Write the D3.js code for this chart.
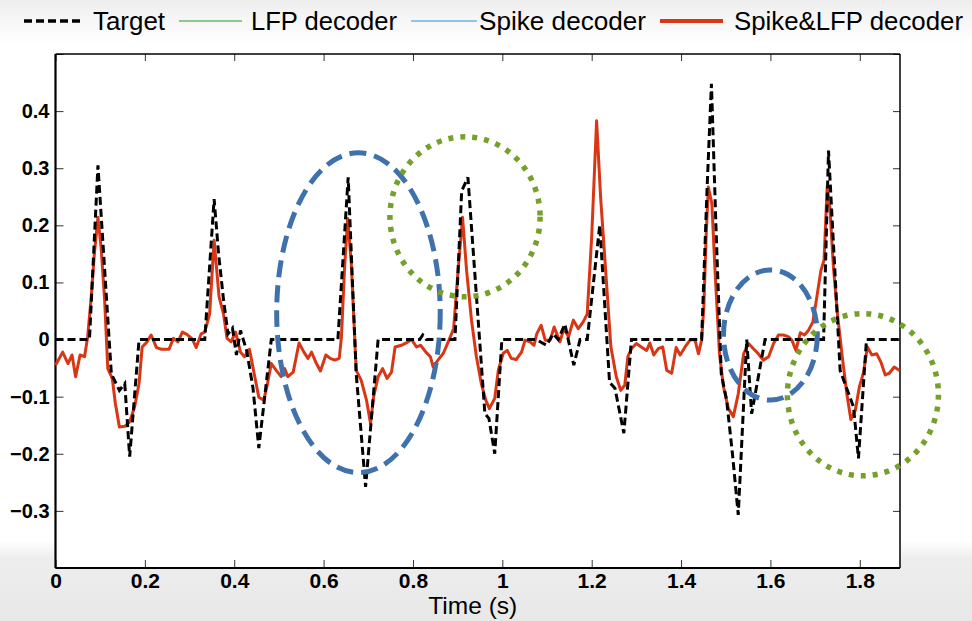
<!DOCTYPE html>
<html>
<head>
<meta charset="utf-8">
<script src="https://cdn.jsdelivr.net/npm/d3@7"></script>
<style>
  body { margin: 0; background: #fff; }
  svg { display: block; font-family: "Liberation Sans", Arial, Helvetica, sans-serif; }
</style>
</head>
<body>
<div id="chart"></div>
<script>
// target trajectory (black dashed)
const targetTime = [0, 0.076, 0.095, 0.125, 0.143, 0.155, 0.166, 0.187, 0.334, 0.355, 0.365, 0.376, 0.386, 0.396,
  0.405, 0.414, 0.428, 0.442, 0.455, 0.483, 0.632, 0.655, 0.673, 0.694, 0.722, 0.815, 0.822, 0.83, 0.894, 0.909,
  0.923, 0.961, 0.970, 0.983, 0.999, 1.076, 1.099, 1.114, 1.125, 1.14, 1.16, 1.174, 1.19, 1.218, 1.24, 1.252,
  1.272, 1.289, 1.446, 1.458, 1.468, 1.478, 1.49, 1.502, 1.515, 1.528, 1.547, 1.558, 1.588, 1.719, 1.73, 1.756,
  1.786, 1.797, 1.815, 1.89];
const targetValue = [0, 0, 0.305, -0.06, -0.089, -0.077, -0.205, 0, 0, 0.246, 0.15, 0.07, 0.01, 0.02,
  -0.027, 0.016, -0.02, -0.085, -0.19, 0, 0, 0.284, -0.06, -0.258, 0, 0, 0.008, 0, 0, 0.26,
  0.284, -0.13, -0.138, -0.2, 0, 0, -0.01, 0.01, 0, 0.027, -0.045, 0, 0, 0.2, -0.075, -0.085,
  -0.164, 0, 0, 0.26, 0.448, 0.2, -0.06, -0.106, -0.2, -0.307, 0, -0.13, 0, 0, 0.331, -0.054,
  -0.118, -0.208, 0, 0];

// combined decoder output (red)
const comboTime = [0, 0.016, 0.028, 0.037, 0.045, 0.055, 0.065, 0.072, 0.080, 0.087, 0.095, 0.102, 0.110, 0.117,
  0.127, 0.134, 0.143, 0.155, 0.166, 0.177, 0.187, 0.194, 0.205, 0.214, 0.226, 0.237, 0.254, 0.264, 0.274, 0.284,
  0.294, 0.306, 0.315, 0.326, 0.334, 0.345, 0.355, 0.366, 0.376, 0.384, 0.393, 0.403, 0.414, 0.423, 0.434, 0.446,
  0.455, 0.466, 0.473, 0.483, 0.494, 0.505, 0.513, 0.520, 0.532, 0.545, 0.556, 0.565, 0.573, 0.584, 0.593, 0.605,
  0.615, 0.625, 0.635, 0.640, 0.647, 0.654, 0.662, 0.673, 0.684, 0.696, 0.705, 0.712, 0.722, 0.732, 0.742, 0.752,
  0.760, 0.774, 0.785, 0.797, 0.808, 0.817, 0.829, 0.839, 0.845, 0.856, 0.868, 0.879, 0.891, 0.901, 0.911, 0.920,
  0.931, 0.942, 0.953, 0.963, 0.971, 0.983, 0.991, 1.002, 1.011, 1.020, 1.031, 1.043, 1.051, 1.062, 1.071, 1.077,
  1.087, 1.096, 1.107, 1.116, 1.129, 1.138, 1.148, 1.159, 1.170, 1.181, 1.190, 1.200, 1.211, 1.220, 1.243, 1.255,
  1.265, 1.274, 1.281, 1.289, 1.300, 1.311, 1.323, 1.330, 1.339, 1.349, 1.359, 1.368, 1.379, 1.389, 1.398, 1.409,
  1.420, 1.431, 1.439, 1.446, 1.451, 1.456, 1.461, 1.469, 1.476, 1.486, 1.495, 1.506, 1.517, 1.528, 1.540, 1.551,
  1.562, 1.573, 1.584, 1.596, 1.607, 1.618, 1.629, 1.640, 1.648, 1.657, 1.667, 1.676, 1.685, 1.695, 1.704, 1.713,
  1.720, 1.727, 1.733, 1.741, 1.750, 1.760, 1.771, 1.780, 1.790, 1.799, 1.808, 1.817, 1.827, 1.838, 1.847, 1.857,
  1.866, 1.877, 1.889];
const comboValue = [-0.045, -0.022, -0.042, -0.027, -0.065, -0.027, -0.030, 0.005, 0.075, 0.150, 0.214, 0.162, 0.069, -0.051,
  -0.068, -0.112, -0.153, -0.152, -0.144, -0.118, -0.077, -0.013, -0.004, 0.008, -0.014, -0.017, -0.017, 0.002, -0.004, 0.013,
  0.009, 0.001, -0.014, 0.010, 0.013, 0.045, 0.174, 0.075, 0.045, 0.002, -0.004, 0.013, -0.022, -0.030, -0.017, -0.065,
  -0.101, -0.106, -0.083, -0.042, -0.054, -0.065, -0.051, -0.065, -0.057, -0.006, -0.022, -0.033, -0.022, -0.042, -0.055, -0.027,
  -0.033, -0.036, -0.033, 0.005, 0.127, 0.212, 0.133, -0.054, -0.071, -0.106, -0.147, -0.100, -0.065, -0.051, -0.068, -0.057,
  -0.013, -0.010, -0.006, 0.000, -0.013, -0.010, -0.022, -0.030, -0.048, -0.036, -0.024, -0.004, 0.019, 0.121, 0.214, 0.121,
  0.034, -0.030, -0.077, -0.106, -0.121, -0.103, -0.054, -0.024, -0.019, -0.033, -0.035, -0.022, -0.001, -0.004, -0.010, 0.010,
  0.025, -0.001, -0.001, 0.022, -0.004, 0.020, 0.005, 0.034, 0.019, 0.031, 0.045, 0.180, 0.383, 0.249, -0.013, -0.065,
  -0.089, -0.080, -0.030, -0.016, -0.007, -0.013, -0.019, -0.006, -0.027, -0.016, -0.013, -0.054, -0.059, -0.014, -0.027, -0.013,
  -0.001, 0.000, -0.025, -0.001, 0.057, 0.179, 0.267, 0.238, 0.121, -0.025, -0.083, -0.121, -0.135, -0.095, -0.025, -0.007,
  -0.016, -0.025, -0.036, -0.030, -0.007, 0.008, 0.008, 0.005, -0.001, -0.019, 0.012, 0.008, 0.016, 0.031, 0.075, 0.121,
  0.139, 0.267, 0.232, 0.127, 0.045, -0.025, -0.095, -0.140, -0.124, -0.083, -0.059, -0.013, -0.027, -0.025, -0.039, -0.062,
  -0.059, -0.048, -0.054];

const legendLabels = ['Target', 'LFP decoder', 'Spike decoder', 'Spike&LFP decoder'];
const xTicks = [0, 0.2, 0.4, 0.6, 0.8, 1, 1.2, 1.4, 1.6, 1.8];
const yTicks = [-0.4, -0.3, -0.2, -0.1, 0, 0.1, 0.2, 0.3, 0.4, 0.5];
const yLabelled = [-0.3, -0.2, -0.1, 0, 0.1, 0.2, 0.3, 0.4];

// highlighted regions: centre (s, value) and radii in data units
const ringCentreT = [0.678, 0.9165, 1.600, 1.807];
const ringCentreV = [0.047, 0.215, 0.008, -0.0965];
const ringRadiusT = [0.183, 0.168, 0.105, 0.169];
const ringRadiusV = [0.280, 0.140, 0.114, 0.142];
const ringKind = ['blue', 'green', 'blue', 'green'];

const W = 972;
const H = 621;
const MARGIN = { top: 54, right: 72, bottom: 53, left: 55.5 };
const innerW = W - MARGIN.left - MARGIN.right;
const innerH = H - MARGIN.top - MARGIN.bottom;

const COLORS = {
  target: '#000000',
  lfp: '#1f9a2a',
  spike: '#2a8fd6',
  combo: '#d93616',
  blue: '#3f71ad',
  green: '#76a02c',
};

const svg = d3.select('#chart')
  .append('svg')
  .attr('width', W)
  .attr('height', H);

const grad = svg.append('defs')
  .append('linearGradient')
  .attr('id', 'bg')
  .attr('x1', 0).attr('y1', 0)
  .attr('x2', 0).attr('y2', 1);
[[0, '#eeeeee'], [0.07, '#ffffff'], [0.87, '#ffffff'], [0.9, '#ededed'], [1, '#e8e8e8']].forEach(([o, c]) => {
  grad.append('stop').attr('offset', o).attr('stop-color', c);
});
svg.append('rect').attr('width', W).attr('height', H).attr('fill', 'url(#bg)');

const g = svg.append('g')
  .attr('transform', `translate(${MARGIN.left},${MARGIN.top})`);

g.append('rect')
  .attr('width', innerW)
  .attr('height', innerH)
  .attr('fill', '#fff');

const x = d3.scaleLinear().domain([0, 1.89]).range([0, innerW]);
const y = d3.scaleLinear().domain([-0.4, 0.5]).range([innerH, 0]);

const fmt = d => (d === 0 || d === 1) ? String(d) : d3.format('.1f')(d);

// axes, ticks pointing inward like MATLAB
const xAxis = g.append('g')
  .attr('transform', `translate(0,${innerH})`)
  .call(d3.axisBottom(x).tickValues(xTicks).tickSizeInner(-8).tickSizeOuter(0).tickPadding(6).tickFormat(fmt));
xAxis.selectAll('text')
  .attr('y', 5)
  .attr('fill', '#000')
  .attr('font-size', '21px')
  .attr('font-weight', 'bold');

const yAxis = g.append('g')
  .call(d3.axisLeft(y).tickValues(yTicks).tickSizeInner(-8).tickSizeOuter(0).tickPadding(6)
    .tickFormat(d => yLabelled.some(v => Math.abs(v - d) < 1e-9) ? fmt(d) : ''));
yAxis.selectAll('text')
  .attr('x', -6)
  .attr('fill', '#000')
  .attr('font-size', '20px')
  .attr('font-weight', 'bold');

g.append('g')
  .call(d3.axisTop(x).tickValues(xTicks).tickSizeInner(-7).tickSizeOuter(0).tickFormat(''));
g.append('g')
  .attr('transform', `translate(${innerW},0)`)
  .call(d3.axisRight(y).tickValues(yTicks).tickSizeInner(-7).tickSizeOuter(0).tickFormat(''));

g.selectAll('.domain').remove();
g.selectAll('.tick line').attr('stroke', '#333').attr('stroke-width', 1);

// box
g.append('line').attr('x1', 0).attr('x2', innerW).attr('y1', 0).attr('y2', 0)
  .attr('stroke', '#000').attr('stroke-width', 1.5);
g.append('line').attr('x1', innerW).attr('x2', innerW).attr('y1', 0).attr('y2', innerH)
  .attr('stroke', '#000').attr('stroke-width', 1.5);
g.append('line').attr('x1', 0).attr('x2', innerW).attr('y1', innerH).attr('y2', innerH)
  .attr('stroke', '#000').attr('stroke-width', 2.2);
g.append('line').attr('x1', 0).attr('x2', 0).attr('y1', 0).attr('y2', innerH)
  .attr('stroke', '#000').attr('stroke-width', 2.2);

const line = d3.line()
  .x(d => x(d[0]))
  .y(d => y(d[1]));

g.append('path')
  .datum(d3.zip(comboTime, comboValue))
  .attr('d', line)
  .attr('fill', 'none')
  .attr('stroke', COLORS.combo)
  .attr('stroke-width', 3)
  .attr('stroke-linejoin', 'round');

g.append('path')
  .datum(d3.zip(targetTime, targetValue))
  .attr('d', line)
  .attr('fill', 'none')
  .attr('stroke', COLORS.target)
  .attr('stroke-width', 3)
  .attr('stroke-dasharray', '8,4');

// annotation rings
g.selectAll('.ring')
  .data(d3.range(ringKind.length))
  .join('ellipse')
  .attr('cx', i => x(ringCentreT[i]))
  .attr('cy', i => y(ringCentreV[i]))
  .attr('rx', i => x(ringRadiusT[i]) - x(0))
  .attr('ry', i => y(0) - y(ringRadiusV[i]))
  .attr('fill', 'none')
  .attr('stroke', i => COLORS[ringKind[i]])
  .attr('stroke-width', i => ringKind[i] === 'blue' ? 5 : 5.5)
  .attr('stroke-dasharray', i => ringKind[i] === 'blue' ? '17,8' : '5,7');

// axis title
svg.append('text')
  .attr('x', MARGIN.left + innerW / 2 - 5)
  .attr('y', 614)
  .attr('text-anchor', 'middle')
  .attr('font-size', '24px')
  .attr('textLength', 89)
  .attr('lengthAdjust', 'spacingAndGlyphs')
  .text('Time (s)');

// legend
const legendLayout = [
  { x0: 24, x1: 84, tx: 93, tw: 72, color: COLORS.target, width: 3.5, dash: '8,4' },
  { x0: 179, x1: 242, tx: 251, tw: 146, color: COLORS.lfp, width: 1.2, dash: null },
  { x0: 411, x1: 477, tx: 479, tw: 167, color: COLORS.spike, width: 1.2, dash: null },
  { x0: 660, x1: 723, tx: 734, tw: 229, color: COLORS.combo, width: 4, dash: null },
];
const legend = svg.append('g');
legendLayout.forEach((it, i) => {
  legend.append('line')
    .attr('x1', it.x0).attr('x2', it.x1)
    .attr('y1', 21).attr('y2', 21)
    .attr('stroke', it.color)
    .attr('stroke-width', it.width)
    .attr('stroke-dasharray', it.dash);
  legend.append('text')
    .attr('x', it.tx)
    .attr('y', 30)
    .attr('font-size', '25px')
    .attr('textLength', it.tw)
    .attr('lengthAdjust', 'spacingAndGlyphs')
    .text(legendLabels[i]);
});
</script>
</body>
</html>
